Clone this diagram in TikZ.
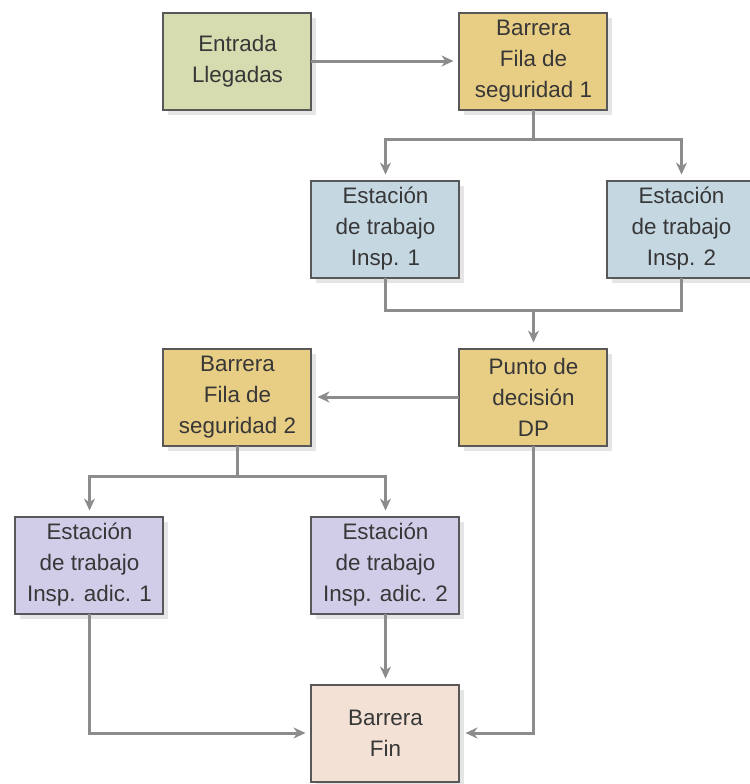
\documentclass[tikz,border=0pt]{standalone}
\usepackage{fontspec}
\setmainfont{Liberation Sans}
\usepackage{tikz}
\usetikzlibrary{arrows,arrows.meta,positioning,calc,shadows}
\definecolor{cent}{RGB}{214,220,175}
\definecolor{cbar}{RGB}{232,205,132}
\definecolor{cins}{RGB}{197,215,225}
\definecolor{cadi}{RGB}{209,205,232}
\definecolor{cfin}{RGB}{243,225,213}
\definecolor{boxln}{RGB}{88,88,88}
\definecolor{lnc}{RGB}{140,140,140}
\definecolor{txt}{RGB}{55,55,55}
\tikzset{
  bx/.style={rectangle,draw=boxln,line width=1pt,minimum width=74pt,minimum height=48.5pt,inner sep=0pt,outer sep=0pt,align=center,text=txt,font=\fontsize{11.2}{15.5}\selectfont,drop shadow={shadow xshift=2.5pt,shadow yshift=-2.5pt,fill=black,opacity=.1}},
  ent/.style={bx,fill=cent},
  bar/.style={bx,fill=cbar},
  ins/.style={bx,fill=cins},
  adi/.style={bx,fill=cadi},
  fn/.style={bx,fill=cfin},
  arr/.style={->,>={Stealth[length=6pt,width=5.5pt]},line width=1.5pt,draw=lnc,shorten >=3pt},
  ln/.style={line width=1.5pt,draw=lnc},
}
\begin{document}
\begin{tikzpicture}
  \useasboundingbox (-118.75pt,30.5pt) rectangle (256.25pt,-361.5pt);
  \node[ent] (ent) {Entrada\\Llegadas};
  \node[bar,right=74pt of ent] (bar1) {Barrera\\Fila de\\seguridad 1};
  \node[ins,below left=35.5pt and 0pt of bar1] (ins1) {Estación\\de trabajo\\Insp. 1};
  \node[ins,below right=35.5pt and 0pt of bar1] (ins2) {Estación\\de trabajo\\Insp. 2};
  \node[bar,below right=35.5pt and 0pt of ins1] (dp) {Punto de\\decisión\\DP};
  \node[bar,left=74pt of dp] (bar2) {Barrera\\Fila de\\seguridad 2};
  \node[adi,below left=35.5pt and 0pt of bar2] (adi1) {Estación\\de trabajo\\Insp. adic. 1};
  \node[adi,below right=35.5pt and 0pt of bar2] (adi2) {Estación\\de trabajo\\Insp. adic. 2};
  \node[fn,below=35.5pt of adi2] (fin) {Barrera\\Fin};
  \coordinate[below=15pt of bar1.south] (s1);
  \coordinate[above=19pt of dp.north] (j1);
  \coordinate[below=15.5pt of bar2.south] (s2);
  \draw[arr] (ent) -- (bar1);
  \draw[ln] (bar1) -- (s1); \draw[arr] (s1) -| (ins1); \draw[arr] (s1) -| (ins2);
  \draw[ln] (ins1) |- (j1) -| (ins2); \draw[arr] (j1) -- (dp);
  \draw[arr] (dp) -- (bar2);
  \draw[ln] (bar2) -- (s2); \draw[arr] (s2) -| (adi1); \draw[arr] (s2) -| (adi2);
  \draw[arr] (adi1) |- (fin); \draw[arr] (adi2) -- (fin); \draw[arr] (dp) |- (fin);
\end{tikzpicture}
\end{document}
